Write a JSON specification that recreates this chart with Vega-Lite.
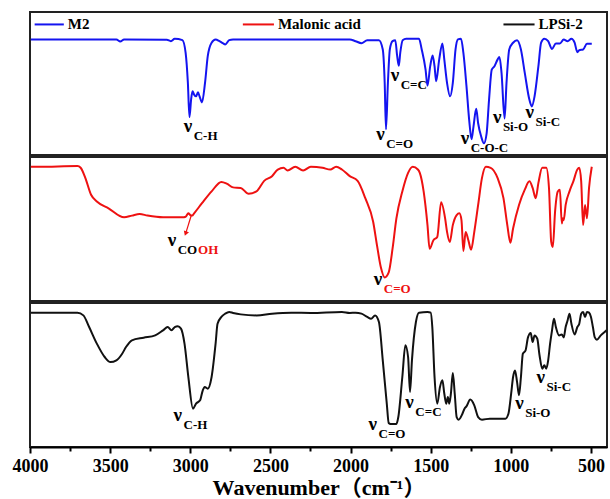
{
  "$schema": "https://vega.github.io/schema/vega-lite/v6.json",
  "padding": {"left": 11, "top": 11, "right": 2, "bottom": 0},
  "spacing": 0,
  "config": {
    "view": {"stroke": "#222222", "strokeWidth": 2},
    "font": "Liberation Serif",
    "text": {"font": "Liberation Serif", "fontWeight": "bold"}
  },
  "datasets": {
    "m2": [
      {"w":3995,"t":80.8},{"w":3461,"t":80.8},{"w":3437,"t":79.4},{"w":3413,"t":80.8},{"w":3146,"t":80.6},{"w":3121,"t":79.6},{"w":3097,"t":81.3},{"w":3049,"t":80.3},{"w":3029,"t":71.4},{"w":3015,"t":50.4},{"w":3005,"t":26.5},{"w":2995,"t":38.6},{"w":2986,"t":44.5},{"w":2976,"t":42.2},{"w":2964,"t":41.0},{"w":2952,"t":43.8},{"w":2942,"t":41.0},{"w":2927,"t":36.8},{"w":2908,"t":50.4},{"w":2891,"t":69.1},{"w":2867,"t":78.5},{"w":2842,"t":80.8},{"w":2818,"t":79.6},{"w":2794,"t":78.0},{"w":2782,"t":77.3},{"w":2757,"t":80.3},{"w":2733,"t":80.8},{"w":2490,"t":80.8},{"w":2005,"t":80.8},{"w":1969,"t":79.6},{"w":1932,"t":78.2},{"w":1896,"t":80.3},{"w":1823,"t":80.3},{"w":1799,"t":73.8},{"w":1787,"t":50.4},{"w":1779,"t":18.0},{"w":1767,"t":50.4},{"w":1755,"t":73.8},{"w":1738,"t":79.6},{"w":1721,"t":80.3},{"w":1709,"t":69.1},{"w":1699,"t":62.5},{"w":1690,"t":71.4},{"w":1675,"t":80.3},{"w":1653,"t":81.3},{"w":1573,"t":81.3},{"w":1556,"t":73.8},{"w":1532,"t":59.7},{"w":1520,"t":48.5},{"w":1503,"t":62.1},{"w":1488,"t":69.6},{"w":1476,"t":62.1},{"w":1466,"t":51.5},{"w":1447,"t":66.7},{"w":1427,"t":78.0},{"w":1415,"t":66.7},{"w":1398,"t":50.4},{"w":1379,"t":41.0},{"w":1362,"t":50.4},{"w":1345,"t":73.8},{"w":1330,"t":80.8},{"w":1311,"t":81.3},{"w":1296,"t":71.4},{"w":1277,"t":48.5},{"w":1260,"t":24.6},{"w":1245,"t":11.0},{"w":1233,"t":19.9},{"w":1216,"t":32.3},{"w":1204,"t":22.2},{"w":1185,"t":12.9},{"w":1168,"t":8.2},{"w":1151,"t":15.2},{"w":1136,"t":38.6},{"w":1119,"t":59.7},{"w":1102,"t":62.1},{"w":1083,"t":66.7},{"w":1071,"t":68.6},{"w":1058,"t":57.4},{"w":1039,"t":25.5},{"w":1027,"t":50.4},{"w":1010,"t":73.8},{"w":986,"t":78.5},{"w":961,"t":80.3},{"w":937,"t":73.8},{"w":913,"t":57.4},{"w":884,"t":38.6},{"w":869,"t":34.0},{"w":852,"t":41.0},{"w":828,"t":62.1},{"w":811,"t":78.5},{"w":791,"t":81.3},{"w":767,"t":79.6},{"w":743,"t":74.2},{"w":719,"t":78.0},{"w":694,"t":78.0},{"w":670,"t":80.8},{"w":646,"t":79.6},{"w":622,"t":81.3},{"w":602,"t":78.5},{"w":585,"t":71.9},{"w":573,"t":73.3},{"w":549,"t":73.8},{"w":525,"t":77.8},{"w":495,"t":77.8}
    ],
    "ma": [
      {"w":3995,"t":93.2},{"w":3947,"t":93.2},{"w":3704,"t":93.7},{"w":3684,"t":92.5},{"w":3655,"t":85.5},{"w":3619,"t":73.8},{"w":3583,"t":69.1},{"w":3510,"t":64.4},{"w":3413,"t":58.1},{"w":3364,"t":59.3},{"w":3316,"t":60.4},{"w":3267,"t":59.3},{"w":3170,"t":58.1},{"w":3049,"t":58.1},{"w":3029,"t":58.5},{"w":3012,"t":60.9},{"w":3000,"t":59.7},{"w":2988,"t":59.3},{"w":2976,"t":60.9},{"w":2927,"t":67.9},{"w":2867,"t":76.1},{"w":2806,"t":82.7},{"w":2770,"t":81.3},{"w":2733,"t":78.9},{"w":2685,"t":78.5},{"w":2636,"t":74.5},{"w":2587,"t":76.1},{"w":2539,"t":83.4},{"w":2490,"t":86.7},{"w":2454,"t":91.3},{"w":2418,"t":92.5},{"w":2393,"t":90.6},{"w":2345,"t":93.2},{"w":2296,"t":90.6},{"w":2248,"t":93.2},{"w":2175,"t":92.5},{"w":2126,"t":91.3},{"w":2090,"t":93.2},{"w":2054,"t":91.3},{"w":2005,"t":86.7},{"w":1956,"t":83.4},{"w":1908,"t":71.4},{"w":1859,"t":55.0},{"w":1835,"t":38.6},{"w":1811,"t":23.4},{"w":1787,"t":16.4},{"w":1762,"t":19.9},{"w":1738,"t":36.3},{"w":1714,"t":57.4},{"w":1677,"t":76.1},{"w":1641,"t":89.0},{"w":1612,"t":93.2},{"w":1580,"t":91.3},{"w":1568,"t":89.0},{"w":1544,"t":76.1},{"w":1520,"t":52.7},{"w":1507,"t":36.3},{"w":1483,"t":42.2},{"w":1459,"t":44.5},{"w":1435,"t":68.6},{"w":1410,"t":57.4},{"w":1398,"t":48.0},{"w":1381,"t":41.0},{"w":1362,"t":52.7},{"w":1338,"t":59.7},{"w":1321,"t":60.9},{"w":1308,"t":56.2},{"w":1296,"t":34.7},{"w":1282,"t":48.0},{"w":1265,"t":42.2},{"w":1248,"t":35.6},{"w":1228,"t":48.0},{"w":1204,"t":66.7},{"w":1180,"t":85.5},{"w":1156,"t":93.2},{"w":1126,"t":92.5},{"w":1083,"t":85.5},{"w":1046,"t":71.4},{"w":1022,"t":52.7},{"w":1003,"t":40.5},{"w":986,"t":50.4},{"w":949,"t":66.7},{"w":913,"t":77.3},{"w":884,"t":83.1},{"w":864,"t":78.5},{"w":845,"t":71.4},{"w":828,"t":82.0},{"w":804,"t":92.5},{"w":779,"t":92.5},{"w":762,"t":78.5},{"w":748,"t":41.0},{"w":738,"t":37.5},{"w":724,"t":62.1},{"w":707,"t":76.1},{"w":694,"t":77.3},{"w":682,"t":53.9},{"w":675,"t":57.4},{"w":670,"t":56.2},{"w":658,"t":66.7},{"w":634,"t":76.1},{"w":610,"t":83.1},{"w":585,"t":91.3},{"w":573,"t":92.5},{"w":561,"t":83.1},{"w":549,"t":52.7},{"w":537,"t":66.7},{"w":525,"t":57.4},{"w":512,"t":78.5},{"w":495,"t":93.2}
    ],
    "lp": [
      {"w":3995,"t":93.3},{"w":3704,"t":93.3},{"w":3667,"t":91.4},{"w":3631,"t":83.3},{"w":3583,"t":71.8},{"w":3534,"t":62.5},{"w":3498,"t":59.0},{"w":3461,"t":60.2},{"w":3425,"t":64.8},{"w":3401,"t":69.4},{"w":3364,"t":74.1},{"w":3291,"t":75.9},{"w":3219,"t":77.5},{"w":3170,"t":81.0},{"w":3141,"t":83.3},{"w":3117,"t":81.0},{"w":3097,"t":83.3},{"w":3078,"t":83.8},{"w":3058,"t":82.2},{"w":3036,"t":71.8},{"w":3012,"t":48.6},{"w":2983,"t":26.6},{"w":2964,"t":30.1},{"w":2939,"t":32.4},{"w":2922,"t":39.4},{"w":2910,"t":41.7},{"w":2891,"t":40.5},{"w":2867,"t":48.6},{"w":2842,"t":71.8},{"w":2830,"t":85.6},{"w":2806,"t":90.3},{"w":2782,"t":92.6},{"w":2757,"t":93.8},{"w":2733,"t":93.1},{"w":2685,"t":92.1},{"w":2587,"t":91.4},{"w":2490,"t":92.6},{"w":2369,"t":93.3},{"w":2248,"t":93.1},{"w":2054,"t":93.8},{"w":2005,"t":93.1},{"w":1969,"t":93.3},{"w":1932,"t":92.6},{"w":1896,"t":90.3},{"w":1872,"t":89.1},{"w":1847,"t":91.4},{"w":1823,"t":86.8},{"w":1799,"t":60.2},{"w":1774,"t":30.1},{"w":1762,"t":16.7},{"w":1750,"t":16.0},{"w":1714,"t":16.0},{"w":1702,"t":20.8},{"w":1677,"t":48.6},{"w":1658,"t":70.6},{"w":1641,"t":62.5},{"w":1629,"t":38.2},{"w":1617,"t":60.2},{"w":1592,"t":87.0},{"w":1573,"t":93.3},{"w":1520,"t":93.8},{"w":1500,"t":93.3},{"w":1490,"t":83.3},{"w":1476,"t":48.6},{"w":1459,"t":30.1},{"w":1442,"t":41.7},{"w":1427,"t":46.3},{"w":1415,"t":37.0},{"w":1403,"t":30.1},{"w":1393,"t":34.7},{"w":1384,"t":30.1},{"w":1374,"t":37.0},{"w":1362,"t":51.4},{"w":1350,"t":37.0},{"w":1338,"t":20.8},{"w":1326,"t":19.0},{"w":1302,"t":23.1},{"w":1289,"t":26.6},{"w":1277,"t":28.2},{"w":1253,"t":32.9},{"w":1228,"t":28.9},{"w":1204,"t":20.8},{"w":1180,"t":19.0},{"w":1131,"t":19.7},{"w":1034,"t":19.7},{"w":1015,"t":23.1},{"w":998,"t":37.0},{"w":986,"t":48.6},{"w":974,"t":53.2},{"w":961,"t":45.1},{"w":949,"t":35.9},{"w":937,"t":48.6},{"w":925,"t":64.8},{"w":908,"t":67.1},{"w":893,"t":76.1},{"w":876,"t":79.2},{"w":864,"t":72.9},{"w":852,"t":77.5},{"w":835,"t":75.2},{"w":821,"t":63.7},{"w":804,"t":54.4},{"w":791,"t":56.7},{"w":779,"t":54.4},{"w":767,"t":60.2},{"w":755,"t":71.8},{"w":743,"t":81.0},{"w":731,"t":89.1},{"w":719,"t":83.3},{"w":699,"t":77.5},{"w":682,"t":78.2},{"w":670,"t":76.1},{"w":658,"t":83.3},{"w":646,"t":87.9},{"w":634,"t":92.6},{"w":622,"t":85.6},{"w":602,"t":78.2},{"w":585,"t":83.3},{"w":573,"t":85.6},{"w":561,"t":92.6},{"w":549,"t":93.8},{"w":537,"t":90.3},{"w":525,"t":93.8},{"w":512,"t":93.3},{"w":500,"t":90.3},{"w":488,"t":83.3},{"w":476,"t":76.1},{"w":463,"t":74.5},{"w":439,"t":77.5},{"w":415,"t":79.9},{"w":403,"t":81.0}
    ],
    "ann": [
      {"p":1,"w":3041,"t":16.4,"nu":1,"sub":"C-H","tone":"k"},
      {"p":1,"w":1840,"t":10.5,"nu":1,"sub":"C=O","tone":"k"},
      {"p":1,"w":1750,"t":51.5,"nu":1,"sub":"C=C","tone":"k"},
      {"p":1,"w":1313,"t":7.7,"nu":1,"sub":"C-O-C","tone":"k"},
      {"p":1,"w":1112,"t":22.2,"nu":1,"sub":"Si-O","tone":"k"},
      {"p":1,"w":908,"t":25.8,"nu":1,"sub":"Si-C","tone":"k"},
      {"p":2,"w":3141,"t":37.9,"nu":1,"sub":"CO","tone":"k"},
      {"p":2,"w":3014,"t":37.9,"nu":0,"sub":"OH","tone":"r"},
      {"p":2,"w":1855,"t":11.0,"nu":1,"sub":"C=O","tone":"r"},
      {"p":3,"w":3104,"t":17.8,"nu":1,"sub":"C-H","tone":"k"},
      {"p":3,"w":1888,"t":11.6,"nu":1,"sub":"C=O","tone":"k"},
      {"p":3,"w":1658,"t":27.3,"nu":1,"sub":"C=C","tone":"k"},
      {"p":3,"w":973,"t":26.6,"nu":1,"sub":"Si-O","tone":"k"},
      {"p":3,"w":840,"t":44.4,"nu":1,"sub":"Si-C","tone":"k"}
    ],
    "leg": [
      {"series":"M2","w":3971,"w2":3789,"t":91.3},
      {"series":"Malonic acid","w":2672,"w2":2478,"t":91.3},
      {"series":"LPSi-2","w":1046,"w2":852,"t":91.3}
    ],
    "arrow": [
      {"w":2993,"t":59.7,"w2":3029,"t2":46.8}
    ]
  },
  "vconcat": [
    {
      "width": 577,
      "height": 143,
      "encoding": {
        "x": {"field": "w", "type": "quantitative", "scale": {"domain": [400, 4000], "reverse": true, "nice": false, "zero": false}, "axis": null},
        "y": {"field": "t", "type": "quantitative", "scale": {"domain": [0, 100], "nice": false, "zero": false}, "axis": null}
      },
      "layer": [
        {
          "data": {"name": "m2"},
          "mark": {"type": "line", "strokeWidth": 2, "interpolate": "monotone"},
          "encoding": {"color": {"datum": "M2", "scale": {"domain": ["M2", "Malonic acid", "LPSi-2"], "range": ["#1414f0", "#ee1111", "#111111"]}, "legend": null}}
        },
        {
          "data": {"name": "leg"},
          "mark": {"type": "rule", "strokeWidth": 2},
          "encoding": {"x2": {"field": "w2"}, "color": {"field": "series", "type": "nominal", "scale": {"domain": ["M2", "Malonic acid", "LPSi-2"], "range": ["#1414f0", "#ee1111", "#111111"]}, "legend": null}}
        },
        {
          "data": {"name": "leg"},
          "mark": {"type": "text", "align": "left", "baseline": "middle", "dx": 4, "fontSize": 15, "color": "black"},
          "encoding": {"x": {"field": "w2", "type": "quantitative"}, "text": {"field": "series"}}
        },
        {
          "data": {"name": "ann"},
          "transform": [{"filter": "datum.p === 1 && datum.nu === 1"}],
          "mark": {"type": "text", "align": "left", "baseline": "alphabetic", "fontSize": 19, "color": "black"},
          "encoding": {"text": {"value": "ν"}}
        },
        {
          "data": {"name": "ann"},
          "transform": [{"filter": "datum.p === 1"}],
          "mark": {"type": "text", "align": "left", "baseline": "alphabetic", "fontSize": 13, "dx": 10, "dy": 8},
          "encoding": {"text": {"field": "sub"}, "color": {"condition": {"test": "datum.tone === 'r'", "value": "#ee1111"}, "value": "black"}}
        }
      ]
    },
    {
      "width": 577,
      "height": 144,
      "encoding": {
        "x": {"field": "w", "type": "quantitative", "scale": {"domain": [400, 4000], "reverse": true, "nice": false, "zero": false}, "axis": null},
        "y": {"field": "t", "type": "quantitative", "scale": {"domain": [0, 100], "nice": false, "zero": false}, "axis": null}
      },
      "layer": [
        {
          "data": {"name": "ma"},
          "mark": {"type": "line", "strokeWidth": 2, "interpolate": "monotone"},
          "encoding": {"color": {"datum": "Malonic acid", "scale": {"domain": ["M2", "Malonic acid", "LPSi-2"], "range": ["#1414f0", "#ee1111", "#111111"]}, "legend": null}}
        },
        {
          "data": {"name": "arrow"},
          "mark": {"type": "rule", "strokeWidth": 1.2, "color": "#ee1111"},
          "encoding": {"x2": {"field": "w2"}, "y2": {"field": "t2"}}
        },
        {
          "data": {"name": "arrow"},
          "mark": {"type": "point", "shape": "triangle-down", "filled": true, "size": 30, "angle": 20, "color": "#ee1111", "opacity": 1},
          "encoding": {"x": {"field": "w2", "type": "quantitative"}, "y": {"field": "t2", "type": "quantitative"}}
        },
        {
          "data": {"name": "ann"},
          "transform": [{"filter": "datum.p === 2 && datum.nu === 1"}],
          "mark": {"type": "text", "align": "left", "baseline": "alphabetic", "fontSize": 19, "color": "black"},
          "encoding": {"text": {"value": "ν"}}
        },
        {
          "data": {"name": "ann"},
          "transform": [{"filter": "datum.p === 2"}],
          "mark": {"type": "text", "align": "left", "baseline": "alphabetic", "fontSize": 13, "dx": 10, "dy": 8},
          "encoding": {"text": {"field": "sub"}, "color": {"condition": {"test": "datum.tone === 'r'", "value": "#ee1111"}, "value": "black"}}
        }
      ]
    },
    {
      "width": 577,
      "height": 144,
      "encoding": {
        "x": {
          "field": "w", "type": "quantitative",
          "scale": {"domain": [400, 4000], "reverse": true, "nice": false, "zero": false},
          "axis": {
            "values": [4000, 3750, 3500, 3250, 3000, 2750, 2500, 2250, 2000, 1750, 1500, 1250, 1000, 750, 500],
            "format": "d",
            "labelExpr": "datum.value % 500 === 0 ? datum.label : ''",
            "tickSize": {"condition": {"test": "datum.value % 500 === 0", "value": 6}, "value": 4},
            "tickWidth": 2, "tickColor": "black",
            "domainColor": "black", "domainWidth": 2,
            "grid": false,
            "labelFont": "Liberation Serif", "labelFontWeight": "bold", "labelFontSize": 18, "labelColor": "black",
            "labelPadding": 4, "labelOverlap": false, "labelFlush": false,
            "title": "Wavenumber（cm⁻¹）",
            "titleFont": "Liberation Serif, Noto Sans CJK SC", "titleFontSize": 22, "titleFontWeight": "bold", "titleColor": "black",
            "titlePadding": 2
          }
        },
        "y": {"field": "t", "type": "quantitative", "scale": {"domain": [0, 100], "nice": false, "zero": false}, "axis": null}
      },
      "layer": [
        {
          "data": {"name": "lp"},
          "mark": {"type": "line", "strokeWidth": 2, "interpolate": "monotone"},
          "encoding": {"color": {"datum": "LPSi-2", "scale": {"domain": ["M2", "Malonic acid", "LPSi-2"], "range": ["#1414f0", "#ee1111", "#111111"]}, "legend": null}}
        },
        {
          "data": {"name": "ann"},
          "transform": [{"filter": "datum.p === 3 && datum.nu === 1"}],
          "mark": {"type": "text", "align": "left", "baseline": "alphabetic", "fontSize": 19, "color": "black"},
          "encoding": {"text": {"value": "ν"}}
        },
        {
          "data": {"name": "ann"},
          "transform": [{"filter": "datum.p === 3"}],
          "mark": {"type": "text", "align": "left", "baseline": "alphabetic", "fontSize": 13, "dx": 10, "dy": 8},
          "encoding": {"text": {"field": "sub"}, "color": {"condition": {"test": "datum.tone === 'r'", "value": "#ee1111"}, "value": "black"}}
        }
      ]
    }
  ]
}
